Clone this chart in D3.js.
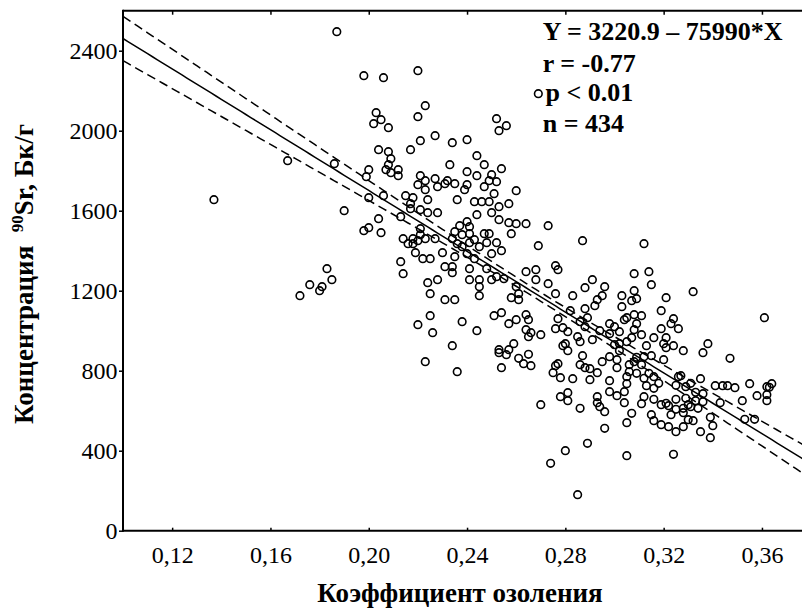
<!DOCTYPE html>
<html>
<head>
<meta charset="utf-8">
<script src="https://cdn.jsdelivr.net/npm/d3@7"></script>
<style>
  body { margin: 0; background: #fff; }
  text { font-family: "Liberation Serif", "Times New Roman", serif; fill: #000; }
</style>
</head>
<body>
<div class="chart"></div>
<script>
// tick values
var xTicks = [0.12, 0.16, 0.20, 0.24, 0.28, 0.32, 0.36];
var yTicks = [0, 400, 800, 1200, 1600, 2000, 2400];

// regression Y = a + b*X and its confidence band
var regIntercept = 3220.9;
var regSlope = -7599.0;
var bandMeanX = 0.270;   // centre of the band
var bandAtMean = 22;     // half width at the centre
var bandSpread = 639;    // growth of the half width away from the centre

var statLines = ["Y = 3220.9 \u2013 75990*X", "r = -0.77", "p < 0.01", "n = 434"];

// [ash coefficient, 90Sr Bq/g]
var points = [
  [0.187,2495],[0.137,1655],[0.167,1850],[0.172,1175],[0.176,1230],[0.180,1200],
  [0.198,2275],[0.206,2265],[0.220,2300],[0.223,2125],[0.220,2070],[0.203,2090],[0.205,2055],[0.202,2035],
  [0.208,2015],[0.227,1975],[0.234,1940],[0.221,1950],[0.217,1905],[0.204,1905],[0.208,1895],[0.209,1860],
  [0.208,1830],[0.207,1805],[0.209,1790],[0.212,1805],[0.212,1775],[0.200,1805],[0.199,1770],[0.186,1835],
  [0.233,1830],[0.221,1775],[0.220,1730],[0.223,1750],[0.227,1760],[0.228,1720],[0.231,1735],[0.232,1750],
  [0.235,1735],[0.223,1705],[0.224,1655],[0.236,1655],[0.239,1705],[0.200,1665],[0.206,1675],[0.215,1675],
  [0.218,1665],[0.217,1635],[0.217,1610],[0.221,1605],[0.224,1590],[0.228,1590],[0.213,1570],[0.204,1560],
  [0.190,1600],[0.198,1500],[0.200,1515],[0.205,1490],[0.221,1510],[0.221,1480],[0.214,1460],[0.216,1435],
  [0.218,1435],[0.218,1460],[0.220,1450],[0.223,1460],[0.227,1460],[0.234,1460],[0.237,1525],[0.235,1495],
  [0.238,1480],[0.236,1435],[0.238,1420],[0.219,1390],[0.222,1360],[0.225,1360],[0.230,1390],[0.235,1370],
  [0.213,1345],[0.214,1285],[0.231,1320],[0.234,1290],[0.234,1320],[0.228,1255],[0.224,1240],[0.183,1310],
  [0.185,1255],[0.181,1220],
  [0.269,2185],[0.252,2060],[0.253,2000],[0.256,2025],[0.240,1955],[0.244,1875],[0.247,1830],[0.254,1810],
  [0.240,1795],[0.244,1775],[0.250,1780],[0.252,1745],[0.249,1750],[0.240,1730],[0.247,1720],[0.260,1700],
  [0.251,1685],[0.243,1645],[0.246,1645],[0.249,1645],[0.253,1620],[0.257,1635],[0.250,1590],[0.244,1580],
  [0.240,1545],[0.253,1555],[0.257,1540],[0.260,1535],[0.264,1535],[0.273,1525],[0.258,1485],[0.241,1520],
  [0.241,1485],[0.247,1485],[0.249,1485],[0.248,1440],[0.252,1440],[0.243,1455],[0.241,1440],[0.245,1420],
  [0.254,1400],[0.250,1385],[0.269,1425],[0.287,1450],[0.240,1385],[0.243,1360],[0.248,1310],[0.264,1295],
  [0.268,1305],[0.276,1325],[0.277,1305],[0.241,1310],[0.252,1270],[0.255,1260],[0.245,1255],[0.250,1255],
  [0.245,1220],[0.260,1220],[0.268,1255],[0.273,1235],[0.291,1255],[0.288,1215],[0.241,1255],[0.296,1220],
  [0.225,1185],[0.231,1155],[0.235,1155],[0.225,1075],[0.220,1030],[0.226,990],[0.238,1045],[0.234,925],
  [0.223,845],[0.236,795],
  [0.245,1175],[0.258,1165],[0.261,1155],[0.261,1185],[0.276,1185],[0.283,1175],[0.295,1175],[0.254,1090],
  [0.251,1075],[0.257,1035],[0.260,1055],[0.264,1080],[0.265,1055],[0.244,1000],[0.264,1005],[0.266,990],
  [0.265,970],[0.270,980],[0.277,1060],[0.282,1100],[0.288,1110],[0.292,1125],[0.293,1155],[0.286,1045],
  [0.289,1065],[0.288,1020],[0.276,1010],[0.279,1015],[0.281,995],[0.285,970],[0.286,945],[0.280,935],
  [0.279,925],[0.281,900],[0.291,955],[0.294,1000],[0.298,1035],[0.298,985],[0.259,935],[0.257,905],
  [0.253,905],[0.253,890],[0.256,880],[0.261,862],[0.265,882],[0.263,835],[0.266,825],[0.254,815],
  [0.287,875],[0.286,830],[0.288,815],[0.290,810],[0.293,790],[0.295,845],[0.298,870],[0.277,835],
  [0.276,825],[0.275,790],[0.278,765],[0.283,760],[0.290,755],[0.298,750],[0.298,695],[0.281,690],
  [0.278,670],[0.281,650],[0.286,612],[0.293,670],[0.293,640],[0.294,620],[0.296,595],[0.270,630],
  [0.296,512],[0.289,437],[0.280,400],[0.274,337],[0.285,180],
  [0.312,1435],[0.308,1285],[0.314,1295],[0.315,1230],[0.332,1195],[0.321,1165],[0.308,1200],[0.303,1175],
  [0.309,1160],[0.307,1150],[0.303,1120],[0.319,1100],[0.361,1065],[0.305,1065],[0.308,1080],[0.311,1075],
  [0.304,1055],[0.309,1035],[0.324,1060],[0.323,1035],[0.326,1010],[0.319,1010],[0.300,1020],[0.308,1005],
  [0.302,995],[0.311,980],[0.307,965],[0.316,965],[0.321,965],[0.320,935],[0.321,915],[0.324,925],
  [0.328,900],[0.313,925],[0.305,945],[0.302,935],[0.300,930],[0.338,935],[0.336,890],[0.347,862],
  [0.320,855],[0.315,875],[0.312,870],[0.309,867],[0.302,900],[0.301,855],[0.301,815],[0.308,845],
  [0.311,830],[0.306,830],[0.306,795],[0.309,787],[0.305,770],[0.314,787],[0.316,770],[0.312,762],
  [0.318,737],[0.326,770],[0.327,775],[0.325,727],[0.329,720],[0.331,737],[0.335,760],[0.313,725],
  [0.316,712],[0.305,735],[0.304,695],[0.301,675],[0.304,640],[0.312,670],[0.316,657],[0.311,635],
  [0.321,637],[0.325,657],[0.329,662],[0.333,692],[0.336,685],[0.333,650],[0.330,630],[0.336,645],
  [0.341,725],[0.344,725],[0.346,725],[0.349,715],[0.355,735],[0.362,720],[0.364,735],[0.363,717],
  [0.358,675],[0.362,680],[0.362,650],[0.352,650],[0.343,640],[0.319,630],[0.322,625],[0.325,607],
  [0.328,612],[0.331,620],[0.334,612],[0.307,587],[0.305,540],[0.315,580],[0.316,550],[0.319,530],
  [0.323,580],[0.322,520],[0.325,495],[0.328,520],[0.328,590],[0.330,555],[0.332,550],[0.335,495],
  [0.339,465],[0.339,567],[0.340,525],[0.353,557],[0.357,557],[0.305,375],[0.324,382]
];

var svgWidth = 802;
var svgHeight = 609;
var plot = {left: 123, right: 802, top: 10.7, bottom: 530.7};

var svg = d3.select(".chart")
  .append("svg")
  .attr("width", svgWidth)
  .attr("height", svgHeight);

var xScale = d3.scaleLinear().domain([0.10, 0.38]).range([plot.left, plot.left + 0.28 * 2457.5]);
var yScale = d3.scaleLinear().domain([0, 2600]).range([plot.bottom, plot.top]);

svg.append("clipPath").attr("id", "plotclip")
  .append("rect")
  .attr("x", plot.left).attr("y", plot.top)
  .attr("width", plot.right - plot.left).attr("height", plot.bottom - plot.top);

// axes
var fmt = d => d.toFixed(2).replace(".", ",");

var bottomAxis = d3.axisBottom(xScale).tickValues(xTicks).tickFormat(fmt)
  .tickSizeInner(-3).tickSizeOuter(0).tickPadding(15.6);
var topAxis = d3.axisTop(xScale).tickValues(xTicks).tickFormat("")
  .tickSizeInner(-4).tickSizeOuter(0);
var leftAxis = d3.axisLeft(yScale).tickValues(yTicks).tickFormat(d3.format("d"))
  .tickSizeInner(4).tickSizeOuter(0).tickPadding(1.5);

function styleAxis(g) {
  g.select(".domain").remove();
  g.selectAll(".tick line").attr("stroke", "#000").attr("stroke-width", 1.5);
  g.selectAll(".tick text").style("font-size", "24px").attr("fill", "#000");
}

svg.append("g").attr("transform", `translate(0, ${plot.bottom})`).call(bottomAxis).call(styleAxis);
svg.append("g").attr("transform", `translate(0, ${plot.top})`).call(topAxis).call(styleAxis);
svg.append("g").attr("transform", `translate(${plot.left}, 0)`).call(leftAxis).call(styleAxis);

var frame = svg.append("g").attr("stroke", "#000").attr("stroke-width", 2).attr("fill", "none");
frame.append("line").attr("x1", plot.left).attr("x2", plot.right).attr("y1", plot.bottom).attr("y2", plot.bottom);
frame.append("line").attr("x1", plot.left).attr("x2", plot.right).attr("y1", plot.top).attr("y2", plot.top);
frame.append("line").attr("x1", plot.left).attr("x2", plot.left).attr("y1", plot.top - 1).attr("y2", plot.bottom + 1);

// regression line and confidence band
var xs = d3.range(0.10, 0.3805, 0.002);
var fit = x => regIntercept + regSlope * x;
var half = x => Math.sqrt(bandAtMean * bandAtMean + Math.pow(bandSpread * (x - bandMeanX), 2));

var lineGen = d3.line().x(d => xScale(d[0])).y(d => yScale(d[1]));
var lines = svg.append("g").attr("clip-path", "url(#plotclip)")
  .attr("fill", "none").attr("stroke", "#000");

lines.append("path").datum(xs.map(x => [x, fit(x)]))
  .attr("d", lineGen).attr("stroke-width", 1.5);
lines.append("path").datum(xs.map(x => [x, fit(x) + half(x)]))
  .attr("d", lineGen).attr("stroke-width", 1.5).attr("stroke-dasharray", "9,5");
lines.append("path").datum(xs.map(x => [x, fit(x) - half(x)]))
  .attr("d", lineGen).attr("stroke-width", 1.5).attr("stroke-dasharray", "9,5");

// points
svg.append("g").attr("clip-path", "url(#plotclip)")
  .selectAll("circle").data(points).enter()
  .append("circle")
  .attr("cx", d => xScale(d[0]))
  .attr("cy", d => yScale(d[1]))
  .attr("r", 3.8)
  .attr("fill", "none")
  .attr("stroke", "#000")
  .attr("stroke-width", 1.6);

// statistics text
svg.append("g").selectAll("text").data(statLines).enter()
  .append("text")
  .attr("x", (d, i) => i == 2 ? 545.5 : 542.7)
  .attr("y", (d, i) => [40, 71.5, 101, 131.7][i])
  .style("font-size", "26px")
  .style("font-weight", "bold")
  .text(d => d);

// axis titles
svg.append("text")
  .attr("x", 460).attr("y", 602)
  .attr("text-anchor", "middle")
  .style("font-size", "27px").style("font-weight", "bold")
  .text("Коэффициент озоления");

var yTitle = svg.append("text")
  .attr("transform", "translate(33, 274) rotate(-90)")
  .attr("text-anchor", "middle")
  .style("font-size", "27px").style("font-weight", "bold");
yTitle.append("tspan").text("Концентрация\u00a0\u00a0");
yTitle.append("tspan").attr("dy", -10).style("font-size", "17px").text("90");
yTitle.append("tspan").attr("dy", 10).text("Sr, Бк/г");
</script>
</body>
</html>
